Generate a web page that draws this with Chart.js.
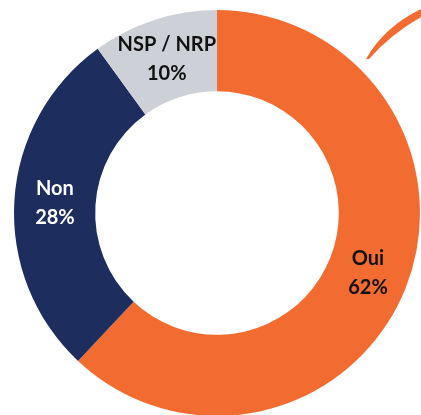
<!DOCTYPE html>
<html>
<head>
<meta charset="utf-8">
<script src="https://cdn.jsdelivr.net/npm/chart.js@4"></script>
<style>
  html, body { margin: 0; padding: 0; background: #fff; overflow: hidden; }
  #wrap { position: relative; width: 421px; height: 430px; }
</style>
</head>
<body>
<div id="wrap"><canvas id="myChart"></canvas></div>
<script>
const labels = ["Oui", "Non", "NSP / NRP"];
const values = [62, 28, 10];
const colors = ["#F26C32", "#1C2D5E", "#CDD0D7"];
const labelColors = ["#111111", "#ffffff", "#111111"];

// draws "label / value%" in the middle of each slice
const sliceLabels = {
  id: "sliceLabels",
  afterDatasetsDraw(chart) {
    const ctx = chart.ctx;
    const meta = chart.getDatasetMeta(0);
    ctx.save();
    ctx.font = "bold 20px Lato";
    ctx.textAlign = "center";
    ctx.textBaseline = "middle";
    meta.data.forEach((arc, i) => {
      const p = arc.tooltipPosition();
      ctx.fillStyle = labelColors[i];
      ctx.fillText(labels[i], p.x, p.y - 14);
      ctx.fillText(values[i] + "%", p.x, p.y + 15);
    });
    ctx.restore();
  },
};

// the orange brush stroke in the top right corner
const brush = {
  id: "brush",
  afterDraw(chart) {
    const ctx = chart.ctx;
    ctx.save();
    ctx.fillStyle = "#F26C32";
    ctx.beginPath();
    ctx.moveTo(366, 59);
    ctx.quadraticCurveTo(384, 27, 421, 9);
    ctx.lineTo(421, 17);
    ctx.quadraticCurveTo(391, 34, 369, 59);
    ctx.closePath();
    ctx.fill();
    ctx.restore();
  },
};

const data = {
  labels: labels,
  datasets: [
    {
      data: values,
      backgroundColor: colors,
      borderWidth: 0,
    },
  ],
};

const config = {
  type: "doughnut",
  data: data,
  options: {
    responsive: true,
    maintainAspectRatio: false,
    animation: false,
    cutout: "60%",
    layout: {
      padding: { left: 14, right: 1, top: 10, bottom: 14 },
    },
    plugins: {
      legend: { display: false },
      tooltip: { enabled: false },
    },
  },
  plugins: [sliceLabels, brush],
};

const myChart = new Chart(document.getElementById("myChart").getContext("2d"), config);
</script>
</body>
</html>
